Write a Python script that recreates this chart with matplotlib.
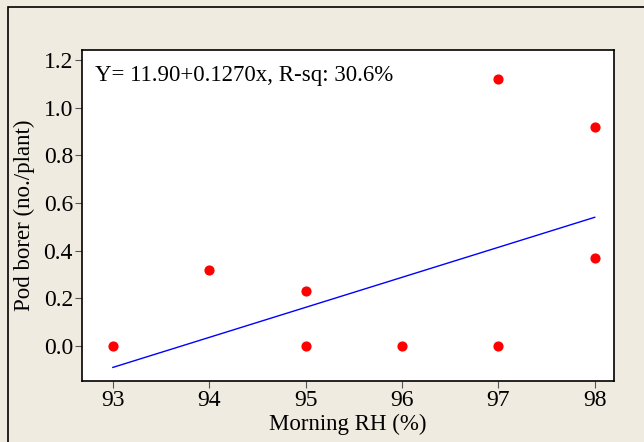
import numpy as np
import matplotlib
matplotlib.use('Agg')
import matplotlib.pyplot as plt
from matplotlib.patches import Rectangle

# Morning RH vs pod borer counts
rh = [93, 94, 95, 95, 96, 97, 97, 98, 98]
pod_borer = [0.0, 0.32, 0.23, 0.0, 0.0, 1.12, 0.0, 0.92, 0.37]

# fitted line end points
fit_x = [93, 98]
fit_y = [-0.09, 0.54]

x_ticks = [93, 94, 95, 96, 97, 98]
y_ticks = [0.0, 0.2, 0.4, 0.6, 0.8, 1.0, 1.2]

plt.rcParams['font.family'] = ['Liberation Serif', 'DejaVu Serif']

bg = '#efebe0'
fig = plt.figure(figsize=(6.44, 4.42), dpi=100, facecolor=bg)

# outer frame of the picture
frame = Rectangle((8 / 644, -0.05), 1.2, 1 - 7 / 442 + 0.05, transform=fig.transFigure,
                  fill=False, edgecolor='black', linewidth=1.2)
fig.patches.append(frame)

ax = fig.add_axes([82 / 644, 1 - 381 / 442, 532 / 644, 331 / 442])
ax.set_facecolor('white')

ax.plot(fit_x, fit_y, color='blue', linewidth=1)
ax.scatter(rh, pod_borer, color='red', s=40, zorder=3)

ax.set_xlim(92.68, 98.2)
ax.set_ylim(-0.147, 1.242)
ax.set_xticks(x_ticks)
ax.set_yticks(y_ticks)
ax.set_yticklabels([f'{v:.1f}' for v in y_ticks])
ax.tick_params(labelsize=17, direction='out', length=5, width=0.8, color='#555555', pad=1.5)

ax.set_xlabel('Morning RH (%)', fontsize=16.5, labelpad=2)
ax.set_ylabel('Pod borer (no./plant)', fontsize=16.5, labelpad=6)

for s in ax.spines.values():
    s.set_linewidth(1.2)

ax.text(0.024, 0.924, 'Y= 11.90+0.1270x, R-sq: 30.6%', transform=ax.transAxes,
        fontsize=16.5, va='center', ha='left')

fig.savefig('out.png', dpi=100, facecolor=bg)
